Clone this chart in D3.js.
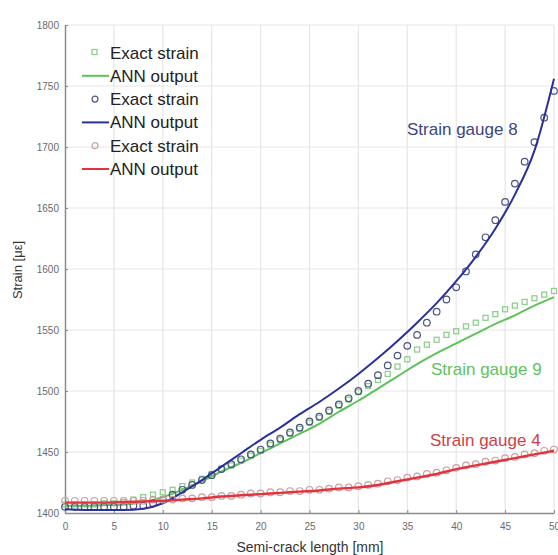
<!DOCTYPE html>
<html>
<head>
<meta charset="utf-8">
<script src="https://cdn.jsdelivr.net/npm/d3@7"></script>
<style>
  body { margin: 0; background: #fff; }
  svg { font-family: "Liberation Sans", Arial, sans-serif; }
</style>
</head>
<body>
<svg width="558" height="555"></svg>
<script>
// crack length of the exact strain samples [mm]
var exactX = [0,1,2,3,4,5,6,7,8,9,10,11,12,13,14,15,16,17,18,19,20,21,22,23,24,25,
              26,27,28,29,30,31,32,33,34,35,36,37,38,39,40,41,42,43,44,45,46,47,48,49,50];
// crack length of the ANN output points [mm]
var annX = [0,2,4,6,8,10,12,14,16,18,20,22,24,26,28,30,32,34,36,38,40,42,44,46,48,50];

var exact9 = [1407,1407,1407,1407,1408,1408,1409,1411,1413,1415,1417,1419,1422,1425,1428,1432,1436,1439,1443,1447,
              1451,1456,1460,1465,1469,1474,1478,1483,1488,1493,1499,1504,1509,1514,1520,1526,1534,1538,1542,1546,
              1549,1553,1556,1560,1563,1567,1570,1573,1576,1579,1582];
var ann9 = [1406,1406,1406.5,1407,1409,1413,1419,1426,1434,1441,1449,1457,1465,1473,1483,1492,1502,1512,1522,1531,
            1539,1547,1555,1562,1570,1577];

var exact8 = [1405,1405,1405,1405,1405,1405,1405,1406,1406,1408,1411,1415,1419,1423,1427,1431,1436,1440,1444,1448,
              1452,1457,1461,1466,1470,1475,1479,1484,1489,1494,1500,1506,1513,1521,1529,1537,1546,1556,1565,1575,
              1585,1598,1612,1626,1640,1655,1670,1688,1704,1724,1746];
var ann8 = [1403,1402.5,1402.5,1402.5,1403.5,1408,1417,1427,1438,1449,1460,1470,1481,1491,1502,1514,1527,1541,1556,1572,
            1590,1610,1633,1661,1697,1756];

var exact4 = [1410,1410,1410,1410,1410,1410,1410,1410,1410,1411,1411,1411,1412,1412,1413,1413,1414,1414,1415,1416,
              1416,1417,1417,1418,1418,1419,1419,1420,1421,1421,1422,1423,1424,1426,1427,1429,1430,1432,1433,1435,
              1437,1439,1440,1442,1443,1445,1446,1448,1449,1451,1452];
var ann4 = [1408.5,1408.5,1408.5,1409,1409.5,1410,1411,1412,1413.5,1414.5,1415.5,1416.5,1417.5,1418.5,1420,1421,1423,1426,1429,
            1432,1436,1439,1442,1445,1448,1451];

var xTicks = [0,5,10,15,20,25,30,35,40,45,50];
var yTicks = [1400,1450,1500,1550,1600,1650,1700,1750,1800];

var legendLabels = ["Exact strain","ANN output","Exact strain","ANN output","Exact strain","ANN output"];
var gaugeLabels = ["Strain gauge 8","Strain gauge 9","Strain gauge 4"];

var green = "#5cc25a", greenMark = "#8fd08c";
var blue = "#2b2f9c", blueMark = "#4c5580";
var red = "#e4323c", redMark = "#c9a0a4";

var svg = d3.select("svg");
var pLeft = 65, pRight = 554, pTop = 25, pBottom = 513;

var x = d3.scaleLinear().domain([0, 50]).range([pLeft, pRight]);
var y = d3.scaleLinear().domain([1400, 1800]).range([pBottom, pTop]);

// grid
svg.append("g").selectAll("line").data(xTicks.slice(1)).enter().append("line")
  .attr("x1", d => x(d)).attr("x2", d => x(d)).attr("y1", pTop).attr("y2", pBottom)
  .style("stroke", "#e6e6e6").style("stroke-width", "1.2px");
svg.append("g").selectAll("line").data(yTicks.slice(1)).enter().append("line")
  .attr("x1", pLeft).attr("x2", pRight).attr("y1", d => y(d)).attr("y2", d => y(d))
  .style("stroke", "#e6e6e6").style("stroke-width", "1.2px");

// axes
var xAxis = svg.append("g").attr("transform", "translate(0," + pBottom + ")")
  .call(d3.axisBottom(x).tickValues(xTicks).tickSizeInner(-3).tickSizeOuter(0).tickPadding(10));
var yAxis = svg.append("g").attr("transform", "translate(" + pLeft + ",0)")
  .call(d3.axisLeft(y).tickValues(yTicks).tickFormat(d3.format("d")).tickSizeInner(-3).tickSizeOuter(0).tickPadding(6));
[xAxis, yAxis].forEach(function (a) {
  a.select(".domain").style("stroke", "#8a8a8a").style("stroke-width", "1.5px");
  a.selectAll(".tick line").style("stroke", "#8a8a8a");
  a.selectAll("text").style("font-size", "10px").style("fill", "#6a6a6a");
});

svg.append("text").attr("x", 310).attr("y", 552).attr("text-anchor", "middle")
  .style("font-size", "14px").style("fill", "#333").text("Semi-crack length [mm]");
svg.append("text").attr("transform", "translate(22,270) rotate(-90)").attr("text-anchor", "middle")
  .style("font-size", "13px").style("fill", "#333").text("Strain [με]");

var line = d3.line().curve(d3.curveMonotoneX);

function squares(vals, color) {
  svg.append("g").selectAll("rect").data(vals).enter().append("rect")
    .attr("x", (d, i) => x(exactX[i]) - 2.5).attr("y", d => y(d) - 2.5)
    .attr("width", 5).attr("height", 5)
    .style("fill", "none").style("stroke", color).style("stroke-width", "1.3px");
}
function circles(vals, color) {
  svg.append("g").selectAll("circle").data(vals).enter().append("circle")
    .attr("cx", (d, i) => x(exactX[i])).attr("cy", d => y(d)).attr("r", 3.3)
    .style("fill", "none").style("stroke", color).style("stroke-width", "1.2px");
}
function curve(vals, color, w) {
  svg.append("path").datum(vals.map((d, i) => [x(annX[i]), y(d)]))
    .attr("d", line).style("fill", "none").style("stroke", color).style("stroke-width", w);
}

squares(exact9, greenMark);
curve(ann9, green, "2px");
circles(exact8, blueMark);
curve(ann8, blue, "2px");
circles(exact4, redMark);
curve(ann4, red, "2.4px");

// gauge annotations
svg.append("text").attr("x", 407).attr("y", 135).style("font-size", "17px").style("fill", "#3b4684").text(gaugeLabels[0]);
svg.append("text").attr("x", 431).attr("y", 375).style("font-size", "17px").style("fill", "#62c25c").text(gaugeLabels[1]);
svg.append("text").attr("x", 430).attr("y", 446).style("font-size", "17px").style("fill", "#d0404a").text(gaugeLabels[2]);

// legend
var legColors = [greenMark, green, blueMark, blue, redMark, red];
var leg = svg.append("g").selectAll("g").data(legendLabels).enter().append("g")
  .attr("transform", (d, i) => "translate(0," + (52.5 + i * 23.3) + ")");
leg.append("text").attr("x", 110).attr("y", 6).style("font-size", "17px").style("fill", "#222").text(d => d);
leg.filter((d, i) => i % 2 == 1).append("line")
  .attr("x1", 82).attr("x2", 109).attr("y1", 0).attr("y2", 0)
  .style("stroke", (d, i) => legColors[i * 2 + 1]).style("stroke-width", "2px");
leg.filter((d, i) => i == 0).append("rect").attr("x", 92).attr("y", -3).attr("width", 5).attr("height", 5)
  .style("fill", "none").style("stroke", greenMark).style("stroke-width", "1.3px");
leg.filter((d, i) => i == 2 || i == 4).append("circle").attr("cx", 95).attr("cy", 0).attr("r", 3)
  .style("fill", "none").style("stroke", (d, i) => i == 0 ? blueMark : redMark).style("stroke-width", "1.2px");
</script>
</body>
</html>
